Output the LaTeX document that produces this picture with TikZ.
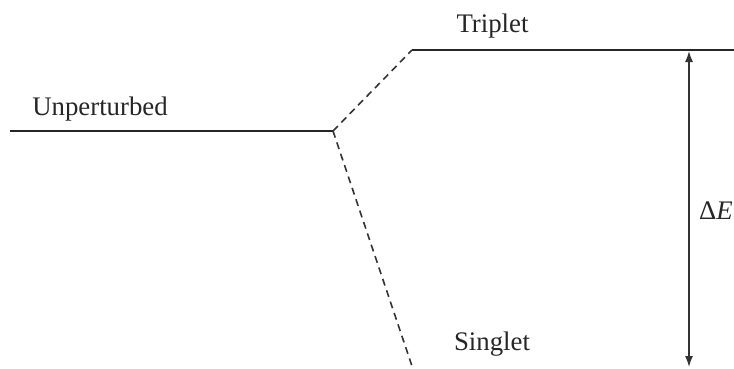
\documentclass[tikz,border=0pt]{standalone}
\usepackage{fontspec}
\setmainfont{Liberation Serif}
\usetikzlibrary{arrows.meta}
\begin{document}
\begin{tikzpicture}[x=1pt,y=-1pt,
  level/.style={line width=1.6pt,color=black!85},
  dashlink/.style={line width=1.6pt,color=black!80,dash pattern=on 7pt off 5pt},
  lbl/.style={font=\fontsize{26.8}{32}\selectfont,inner sep=0pt,anchor=base,color=black!85},
  gap/.style={line width=1.5pt,color=black!80,{Latex[length=11pt,width=8pt]}-{Latex[length=11pt,width=8pt]}}]
\useasboundingbox (0,0) rectangle (734,368);
\clip (0,0) rectangle (734,368);
\coordinate (u0) at (10,131);
\coordinate (u1) at (333,131);
\coordinate (t0) at (412,50);
\coordinate (t1) at (740,50);
\coordinate (s0) at (414,372);
\coordinate (a0) at (689,51);
\coordinate (a1) at (689,367);
\draw[level] (u0) -- (u1);
\draw[level] (t0) -- (t1);
\draw[dashlink] (u1) -- (t0);
\draw[dashlink] (u1) -- (s0);
\draw[gap] (a0) -- (a1);
\node[lbl] (unp) at (100,115) {Unperturbed};
\node[lbl] (tri) at (492.5,32) {Triplet};
\node[lbl] (sin) at (492,350) {Singlet};
\node[lbl,anchor=base west] (de) at (699,219) {Δ\textit{E}};
\end{tikzpicture}
\end{document}
